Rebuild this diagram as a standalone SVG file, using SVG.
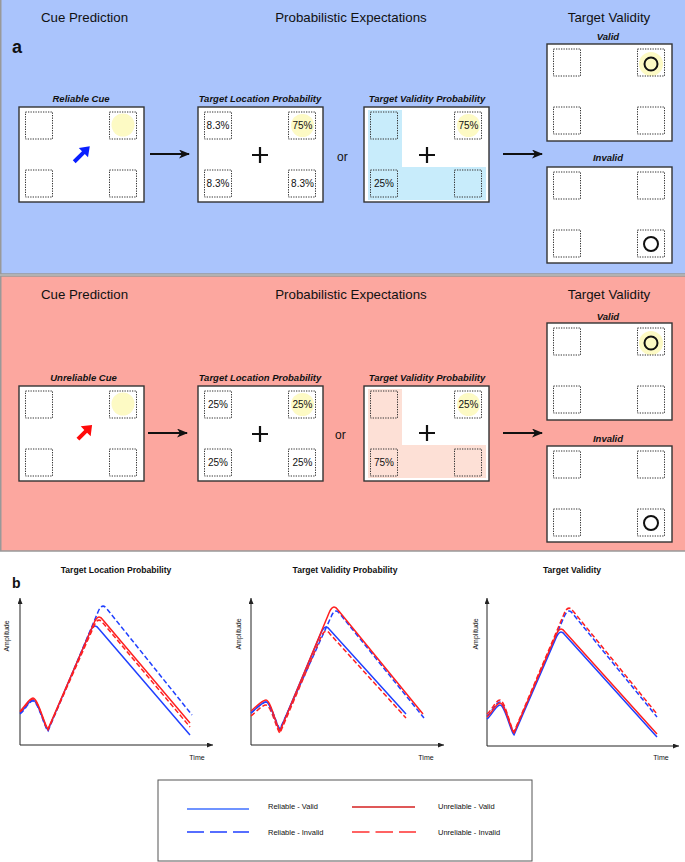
<svg xmlns="http://www.w3.org/2000/svg" width="685" height="862" viewBox="0 0 685 862">
<style>
text{font-family:"Liberation Sans",Arial,sans-serif;fill:#111}
.h{font-size:13.3px;text-anchor:middle}
.lab{font-size:9.5px;font-weight:bold;font-style:italic;text-anchor:middle}
.pc{font-size:10px;text-anchor:middle}
.or{font-size:12px}
.box{fill:#fff;stroke:#333;stroke-width:1.4}
.sq{fill:none;stroke:#333;stroke-width:1;stroke-dasharray:1.3 1.2}
.yc{fill:#fdfac4}
.tc{fill:none;stroke:#111;stroke-width:2}
.plus{stroke:#111;stroke-width:2.2}
.conn{stroke:#111;stroke-width:2;fill:none}
.ax{stroke:#222;stroke-width:1;fill:none}
.cv{fill:none;stroke-width:1.5}
.b{stroke:#2040ff}
.r{stroke:#ff2020}
.d{stroke-dasharray:5 2.5}
.pt{font-size:8.6px;font-weight:bold;text-anchor:middle}
.sm{font-size:7px;text-anchor:middle}
.lg{font-size:7.5px}
</style>
<defs>
<g id="q">
<rect class="sq" x="6.5" y="5" width="27" height="27"/>
<rect class="sq" x="90.5" y="5" width="27" height="27"/>
<rect class="sq" x="6.5" y="63" width="27" height="27"/>
<rect class="sq" x="90.5" y="63" width="27" height="27"/>
</g>
<marker id="ah" markerUnits="userSpaceOnUse" markerWidth="11" markerHeight="9" refX="10" refY="4.5" orient="auto">
<path d="M0,0 L11,4.5 L0,9 L3,4.5 z" fill="#111"/>
</marker>
<marker id="axh" markerUnits="userSpaceOnUse" markerWidth="6" markerHeight="5" refX="6" refY="2.5" orient="auto">
<path d="M0,0 L6,2.5 L0,5 z" fill="#222"/>
</marker>
</defs>

<g id="panel-a">
<rect x="0.75" y="-2" width="690" height="276" fill="#aac4fc" stroke="#999" stroke-width="1.5"/>
<text class="h" x="84.5" y="22">Cue Prediction</text>
<text class="h" x="351" y="22">Probabilistic Expectations</text>
<text class="h" x="609" y="22">Target Validity</text>
<text x="12" y="53" style="font-size:18px;font-weight:bold">a</text>
</g>

<g id="a-cue">
<text class="lab" x="81" y="102">Reliable Cue</text>
<rect class="box" x="19" y="107" width="125" height="95"/>
<circle class="yc" cx="123" cy="125" r="11.5"/>
<use href="#q" x="19" y="107"/>
<polygon points="-11,-2 2,-2 2,-6.5 11,0 2,6.5 2,2 -11,2" fill="#0a1fff" transform="translate(82,154) rotate(-45)"/>
</g>

<g id="a-tlp">
<text class="lab" x="260" y="102">Target Location Probability</text>
<rect class="box" x="198" y="107" width="125" height="95"/>
<circle class="yc" cx="302.5" cy="125.5" r="11.5"/>
<use href="#q" x="198" y="107"/>
<text class="pc" x="218" y="129">8.3%</text>
<text class="pc" x="302.5" y="129">75%</text>
<text class="pc" x="218" y="187">8.3%</text>
<text class="pc" x="302.5" y="187">8.3%</text>
<path class="plus" d="M252,155 H268 M260,147 V163"/>
</g>

<text class="or" x="337" y="160.5">or</text>

<g id="a-tvp">
<text class="lab" x="427" y="102">Target Validity Probability</text>
<rect class="box" x="364" y="107" width="125" height="95"/>
<path d="M368,110 H402 V167 H486 V200 H368 z" fill="#c8ecfb"/>
<circle class="yc" cx="468.5" cy="125.5" r="11.5"/>
<use href="#q" x="364" y="107"/>
<text class="pc" x="468.5" y="129">75%</text>
<text class="pc" x="384" y="187">25%</text>
<path class="plus" d="M419,155 H435 M427,147 V163"/>
</g>

<g id="a-valid">
<text class="lab" x="608" y="39.5">Valid</text>
<rect class="box" x="547" y="44" width="125" height="97"/>
<circle class="yc" cx="651" cy="64" r="12"/>
<use href="#q" x="547" y="44"/>
<circle class="tc" cx="651" cy="64" r="6.5"/>
</g>

<g id="a-invalid">
<text class="lab" x="608" y="161">Invalid</text>
<rect class="box" x="547" y="167" width="125" height="96"/>
<use href="#q" x="547" y="167"/>
<circle class="tc" cx="651" cy="244" r="7"/>
</g>

<g id="panel-u">
<rect x="0.75" y="276" width="690" height="275" fill="#fca79f" stroke="#999" stroke-width="1.5"/>
<text class="h" x="84.5" y="299">Cue Prediction</text>
<text class="h" x="351" y="299">Probabilistic Expectations</text>
<text class="h" x="609" y="299">Target Validity</text>
</g>

<g id="u-cue">
<text class="lab" x="83.5" y="381">Unreliable Cue</text>
<rect class="box" x="19" y="386" width="125" height="95"/>
<circle class="yc" cx="123" cy="404" r="11.5"/>
<use href="#q" x="19" y="386"/>
<polygon points="-10,-2 1,-2 1,-7 10,0 1,7 1,2 -10,2" fill="#ff0a0a" transform="translate(85,432) rotate(-45)"/>
</g>

<g id="u-tlp">
<text class="lab" x="260" y="381">Target Location Probability</text>
<rect class="box" x="198" y="386" width="125" height="95"/>
<circle class="yc" cx="302.5" cy="404.5" r="11.5"/>
<use href="#q" x="198" y="386"/>
<text class="pc" x="218" y="408">25%</text>
<text class="pc" x="302.5" y="408">25%</text>
<text class="pc" x="218" y="466">25%</text>
<text class="pc" x="302.5" y="466">25%</text>
<path class="plus" d="M252,434 H268 M260,426 V442"/>
</g>

<text class="or" x="335" y="439">or</text>

<g id="u-tvp">
<text class="lab" x="427" y="381">Target Validity Probability</text>
<rect class="box" x="364" y="386" width="125" height="95"/>
<path d="M368,389 H402 V445 H486 V478 H368 z" fill="#fde0d6"/>
<circle class="yc" cx="468.5" cy="404.5" r="11.5"/>
<use href="#q" x="364" y="386"/>
<text class="pc" x="468.5" y="408">25%</text>
<text class="pc" x="384" y="466">75%</text>
<path class="plus" d="M419,433 H435 M427,425 V441"/>
</g>

<g id="u-valid">
<text class="lab" x="608" y="320">Valid</text>
<rect class="box" x="547" y="323" width="125" height="97"/>
<circle class="yc" cx="651" cy="343" r="12"/>
<use href="#q" x="547" y="323"/>
<circle class="tc" cx="651" cy="343" r="6.5"/>
</g>

<g id="u-invalid">
<text class="lab" x="608" y="442">Invalid</text>
<rect class="box" x="547" y="446" width="125" height="96"/>
<use href="#q" x="547" y="446"/>
<circle class="tc" cx="651" cy="523" r="7"/>
</g>

<g id="connectors">
<line class="conn" x1="150" y1="154" x2="189" y2="154" marker-end="url(#ah)"/>
<line class="conn" x1="503" y1="154" x2="542" y2="154" marker-end="url(#ah)"/>
<line class="conn" x1="148" y1="433" x2="187" y2="433" marker-end="url(#ah)"/>
<line class="conn" x1="503" y1="433" x2="542" y2="433" marker-end="url(#ah)"/>
</g>

<text x="12" y="588" style="font-size:14px;font-weight:bold">b</text>

<g id="plot-tlp">
<text class="pt" x="116" y="573">Target Location Probability</text>
<path class="ax" d="M20,745 V598" marker-end="url(#axh)"/>
<path class="ax" d="M20,745 H213" marker-end="url(#axh)"/>
<text class="sm" transform="translate(8.5,636) rotate(-90)">Amplitude</text>
<text class="sm" x="197" y="760">Time</text>
<path class="cv b" d="M20,713 C25,709 29,700 33,700 C38,700 45,728 48,730 L90,632 Q94,622 99,629 L190,735"/>
<path class="cv b d" d="M20,714 C25,710 29,701 33,701 C38,701 45,729 48,731 L98,612 Q102,602 107,609 L192,715"/>
<path class="cv r d" d="M20,712 C25,708 29,699 33,699 C38,699 45,728 48,730 L94,626 Q98,616 103,623 L190,727"/>
<path class="cv r" d="M20,711 C25,707 29,698 33,698 C38,698 45,727 48,729 L94,623 Q98,613 103,620 L190,723"/>
</g>

<g id="plot-tvp">
<text class="pt" x="345" y="573">Target Validity Probability</text>
<path class="ax" d="M251,745 V598" marker-end="url(#axh)"/>
<path class="ax" d="M251,745 H444" marker-end="url(#axh)"/>
<text class="sm" transform="translate(240.5,634) rotate(-90)">Amplitude</text>
<text class="sm" x="426" y="760">Time</text>
<path class="cv b d" d="M251,713 C256,709 262,702 266,702 C271,702 277,727 280,729 L331,617 Q335,607 340,614 L424,718"/>
<path class="cv r d" d="M251,716 C256,712 262,705 266,705 C271,705 277,731 280,733 L321,637 Q325,627 330,634 L406,718"/>
<path class="cv b" d="M251,713 C256,709 262,702 266,702 C271,702 277,728 280,730 L321,633 Q325,623 330,630 L406,714"/>
<path class="cv r" d="M251,711 C256,707 262,700 266,700 C271,700 277,729 280,731 L329,613 Q333,603 338,610 L423,714"/>
</g>

<g id="plot-tv">
<text class="pt" x="572" y="573">Target Validity</text>
<path class="ax" d="M487,746 V598" marker-end="url(#axh)"/>
<path class="ax" d="M487,746 H679" marker-end="url(#axh)"/>
<text class="sm" transform="translate(478,634) rotate(-90)">Amplitude</text>
<text class="sm" x="661" y="760">Time</text>
<path class="cv b d" d="M487,716 C492,712 496,702 500,702 C505,702 511,731 514,733 L564,617 Q568,607 573,614 L657,717"/>
<path class="cv r d" d="M487,714 C492,710 496,700 500,700 C505,700 511,730 514,732 L564,614 Q568,604 573,611 L657,714"/>
<path class="cv b" d="M487,719 C492,715 496,705 500,705 C505,705 511,733 514,735 L556,638 Q560,628 565,635 L657,737"/>
<path class="cv r" d="M487,717 C492,713 496,703 500,703 C505,703 511,731 514,733 L556,635 Q560,625 565,632 L657,734"/>
</g>

<g id="legend">
<rect x="158" y="780" width="374" height="81" fill="#fff" stroke="#555" stroke-width="1"/>
<line x1="187" y1="809" x2="249" y2="809" stroke="#3f6fff" stroke-width="1.5"/>
<text class="lg" x="268" y="809">Reliable - Valid</text>
<line x1="352" y1="807" x2="415" y2="807" stroke="#d42020" stroke-width="1.5"/>
<text class="lg" x="438" y="809">Unreliable - Valid</text>
<line x1="187" y1="832" x2="249" y2="832" stroke="#1f3fff" stroke-width="1.5" stroke-dasharray="17 6"/>
<text class="lg" x="268" y="835">Reliable - Invalid</text>
<line x1="352" y1="832" x2="416" y2="832" stroke="#ff3030" stroke-width="1.5" stroke-dasharray="17.5 6"/>
<text class="lg" x="438" y="835">Unreliable - Invalid</text>
</g>
</svg>
